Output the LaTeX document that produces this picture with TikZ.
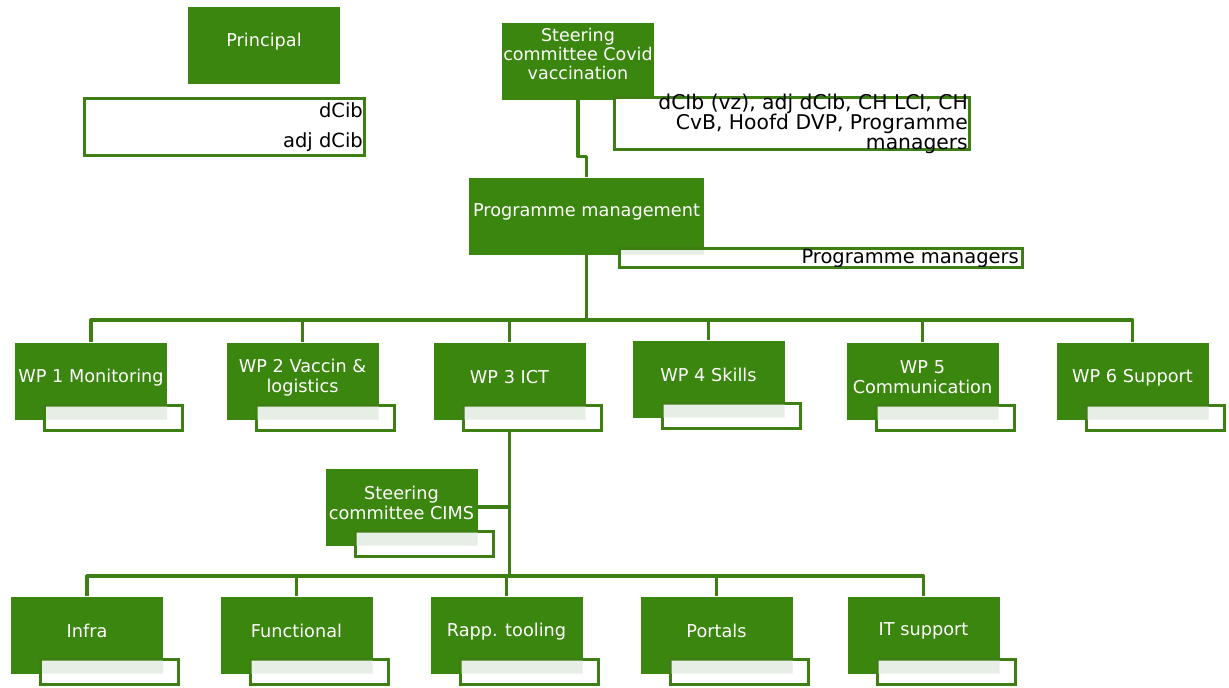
\documentclass[tikz,border=0pt]{standalone}
\usepackage{fontspec}
\setmainfont{DejaVu Sans}
\usetikzlibrary{positioning,backgrounds}
\definecolor{wpgreen}{HTML}{3A860E}
\definecolor{wpline}{HTML}{3D7F12}
\definecolor{tagshade}{HTML}{E7EEE5}

\tikzset{
  gbox/.style={fill=wpgreen, minimum width=152pt, minimum height=77pt, inner sep=0pt},
  gtext/.style={anchor=center, yshift=-35pt, inner sep=0pt, align=center, text=white,
    font=\fontsize{17.7}{20}\selectfont},
  tagbox/.style={draw=wpline, line width=3pt, fill=white, minimum width=138pt,
    minimum height=25pt, inner sep=0pt, below right=-16pt and -124pt of #1},
  namebox/.style={draw=wpline, line width=3pt, fill=white, inner sep=0pt},
  ntext/.style={anchor=east, xshift=-3pt, inner sep=0pt, align=right, text=black,
    font=\fontsize{19.5}{19.5}\selectfont},
  conn/.style={draw=wpline, line width=3.2pt, line join=round},
}

\begin{document}
\begin{tikzpicture}[x=1pt,y=-1pt]
  \useasboundingbox (0,0) rectangle (1229,688);

  % top
  \node[gbox, label={[gtext]north:Principal}] (pr) at (264,45) {};
  \node[namebox, minimum width=280pt, minimum height=57pt,
        label={[ntext]east:{dCib\\[10pt]adj dCib}}] (pr-tag) at (224.5,127) {};
  \node[gbox, label={[gtext, yshift=3pt, font=\fontsize{17.5}{19}\selectfont]north:{Steering\\committee Covid\\vaccination}}] (scc) at (578,61) {};
  \node[namebox, minimum width=355pt, minimum height=52pt,
        label={[ntext, font=\fontsize{20.3}{19.5}\selectfont]east:{dCIb (vz), adj dCib, CH LCI, CH\\CvB, Hoofd DVP, Programme\\managers}}] (scc-tag) at (792,123.5) {};
  \node[gbox, minimum width=235pt, label={[gtext]north:Programme management}] (pm) at (586.5,216) {};
  \node[namebox, minimum width=403pt, minimum height=19pt,
        label={[ntext, xshift=-2pt]east:Programme managers}] (pm-tag) at (821,258) {};

  % work packages
  \node[gbox, label={[gtext]north:WP 1 Monitoring}] (wp1) at (91,381) {};
  \node[gbox, label={[gtext]north:{WP 2 Vaccin \&\\logistics}}] (wp2) at (302.5,381) {};
  \node[gbox, label={[gtext]north:WP 3 ICT}] (wp3) at (509.5,381) {};
  \node[gbox, label={[gtext]north:WP 4 Skills}] (wp4) at (708.5,379) {};
  \node[gbox, label={[gtext]north:{WP 5\\Communication}}] (wp5) at (922.5,381) {};
  \node[gbox, label={[gtext]north:WP 6 Support}] (wp6) at (1132.5,381) {};

  \node[gbox, label={[gtext]north:{Steering\\committee CIMS}}] (cims) at (401.5,507) {};

  % ICT
  \node[gbox, label={[gtext]north:Infra}] (infra) at (87,635) {};
  \node[gbox, label={[gtext]north:Functional}] (func) at (296.5,635) {};
  \node[gbox, label={[gtext]north:Rapp. tooling}] (rapp) at (506.5,635) {};
  \node[gbox, label={[gtext]north:Portals}] (portal) at (716.5,635) {};
  \node[gbox, label={[gtext]north:IT support}] (itsup) at (923.5,635) {};

  \node[tagbox=wp1] (wp1-tag) {};
  \node[tagbox=wp2] (wp2-tag) {};
  \node[tagbox=wp3] (wp3-tag) {};
  \node[tagbox=wp4] (wp4-tag) {};
  \node[tagbox=wp5] (wp5-tag) {};
  \node[tagbox=wp6] (wp6-tag) {};
  \node[tagbox=cims] (cims-tag) {};
  \node[tagbox=infra] (infra-tag) {};
  \node[tagbox=func] (func-tag) {};
  \node[tagbox=rapp] (rapp-tag) {};
  \node[tagbox=portal] (portal-tag) {};
  \node[tagbox=itsup] (itsup-tag) {};

  \fill[tagshade] ([shift={(3pt,-3pt)}]pm-tag.north west) rectangle (pm.south east)
    ([shift={(3pt,-3pt)}]wp1-tag.north west) rectangle (wp1.south east)
    ([shift={(3pt,-3pt)}]wp2-tag.north west) rectangle (wp2.south east)
    ([shift={(3pt,-3pt)}]wp3-tag.north west) rectangle (wp3.south east)
    ([shift={(3pt,-3pt)}]wp4-tag.north west) rectangle (wp4.south east)
    ([shift={(3pt,-3pt)}]wp5-tag.north west) rectangle (wp5.south east)
    ([shift={(3pt,-3pt)}]wp6-tag.north west) rectangle (wp6.south east)
    ([shift={(3pt,-3pt)}]cims-tag.north west) rectangle (cims.south east)
    ([shift={(3pt,-3pt)}]infra-tag.north west) rectangle (infra.south east)
    ([shift={(3pt,-3pt)}]func-tag.north west) rectangle (func.south east)
    ([shift={(3pt,-3pt)}]rapp-tag.north west) rectangle (rapp.south east)
    ([shift={(3pt,-3pt)}]portal-tag.north west) rectangle (portal.south east)
    ([shift={(3pt,-3pt)}]itsup-tag.north west) rectangle (itsup.south east);

  % connectors
  \coordinate (bus1) at (586.5,320);
  \coordinate (bus2) at (509.5,576);
  \begin{scope}[on background layer]
    \draw[conn] (scc.south) -- ++(0,57) -| (pm.north);
    \draw[conn] (pm.south) -- (bus1);
    \draw[conn] (wp1.north) |- (bus1) -| (wp6.north);
    \draw[conn] (wp2.north) -- (wp2.north |- bus1)
                (wp3.north) -- (wp3.north |- bus1)
                (wp4.north) -- (wp4.north |- bus1)
                (wp5.north) -- (wp5.north |- bus1);
    \draw[conn] (wp3.south) -- (bus2);
    \draw[conn] (cims.east) -- (cims.east -| bus2);
    \draw[conn] (infra.north) |- (bus2) -| (itsup.north);
    \draw[conn] (func.north) -- (func.north |- bus2)
                (rapp.north) -- (rapp.north |- bus2)
                (portal.north) -- (portal.north |- bus2);
  \end{scope}
\end{tikzpicture}
\end{document}
